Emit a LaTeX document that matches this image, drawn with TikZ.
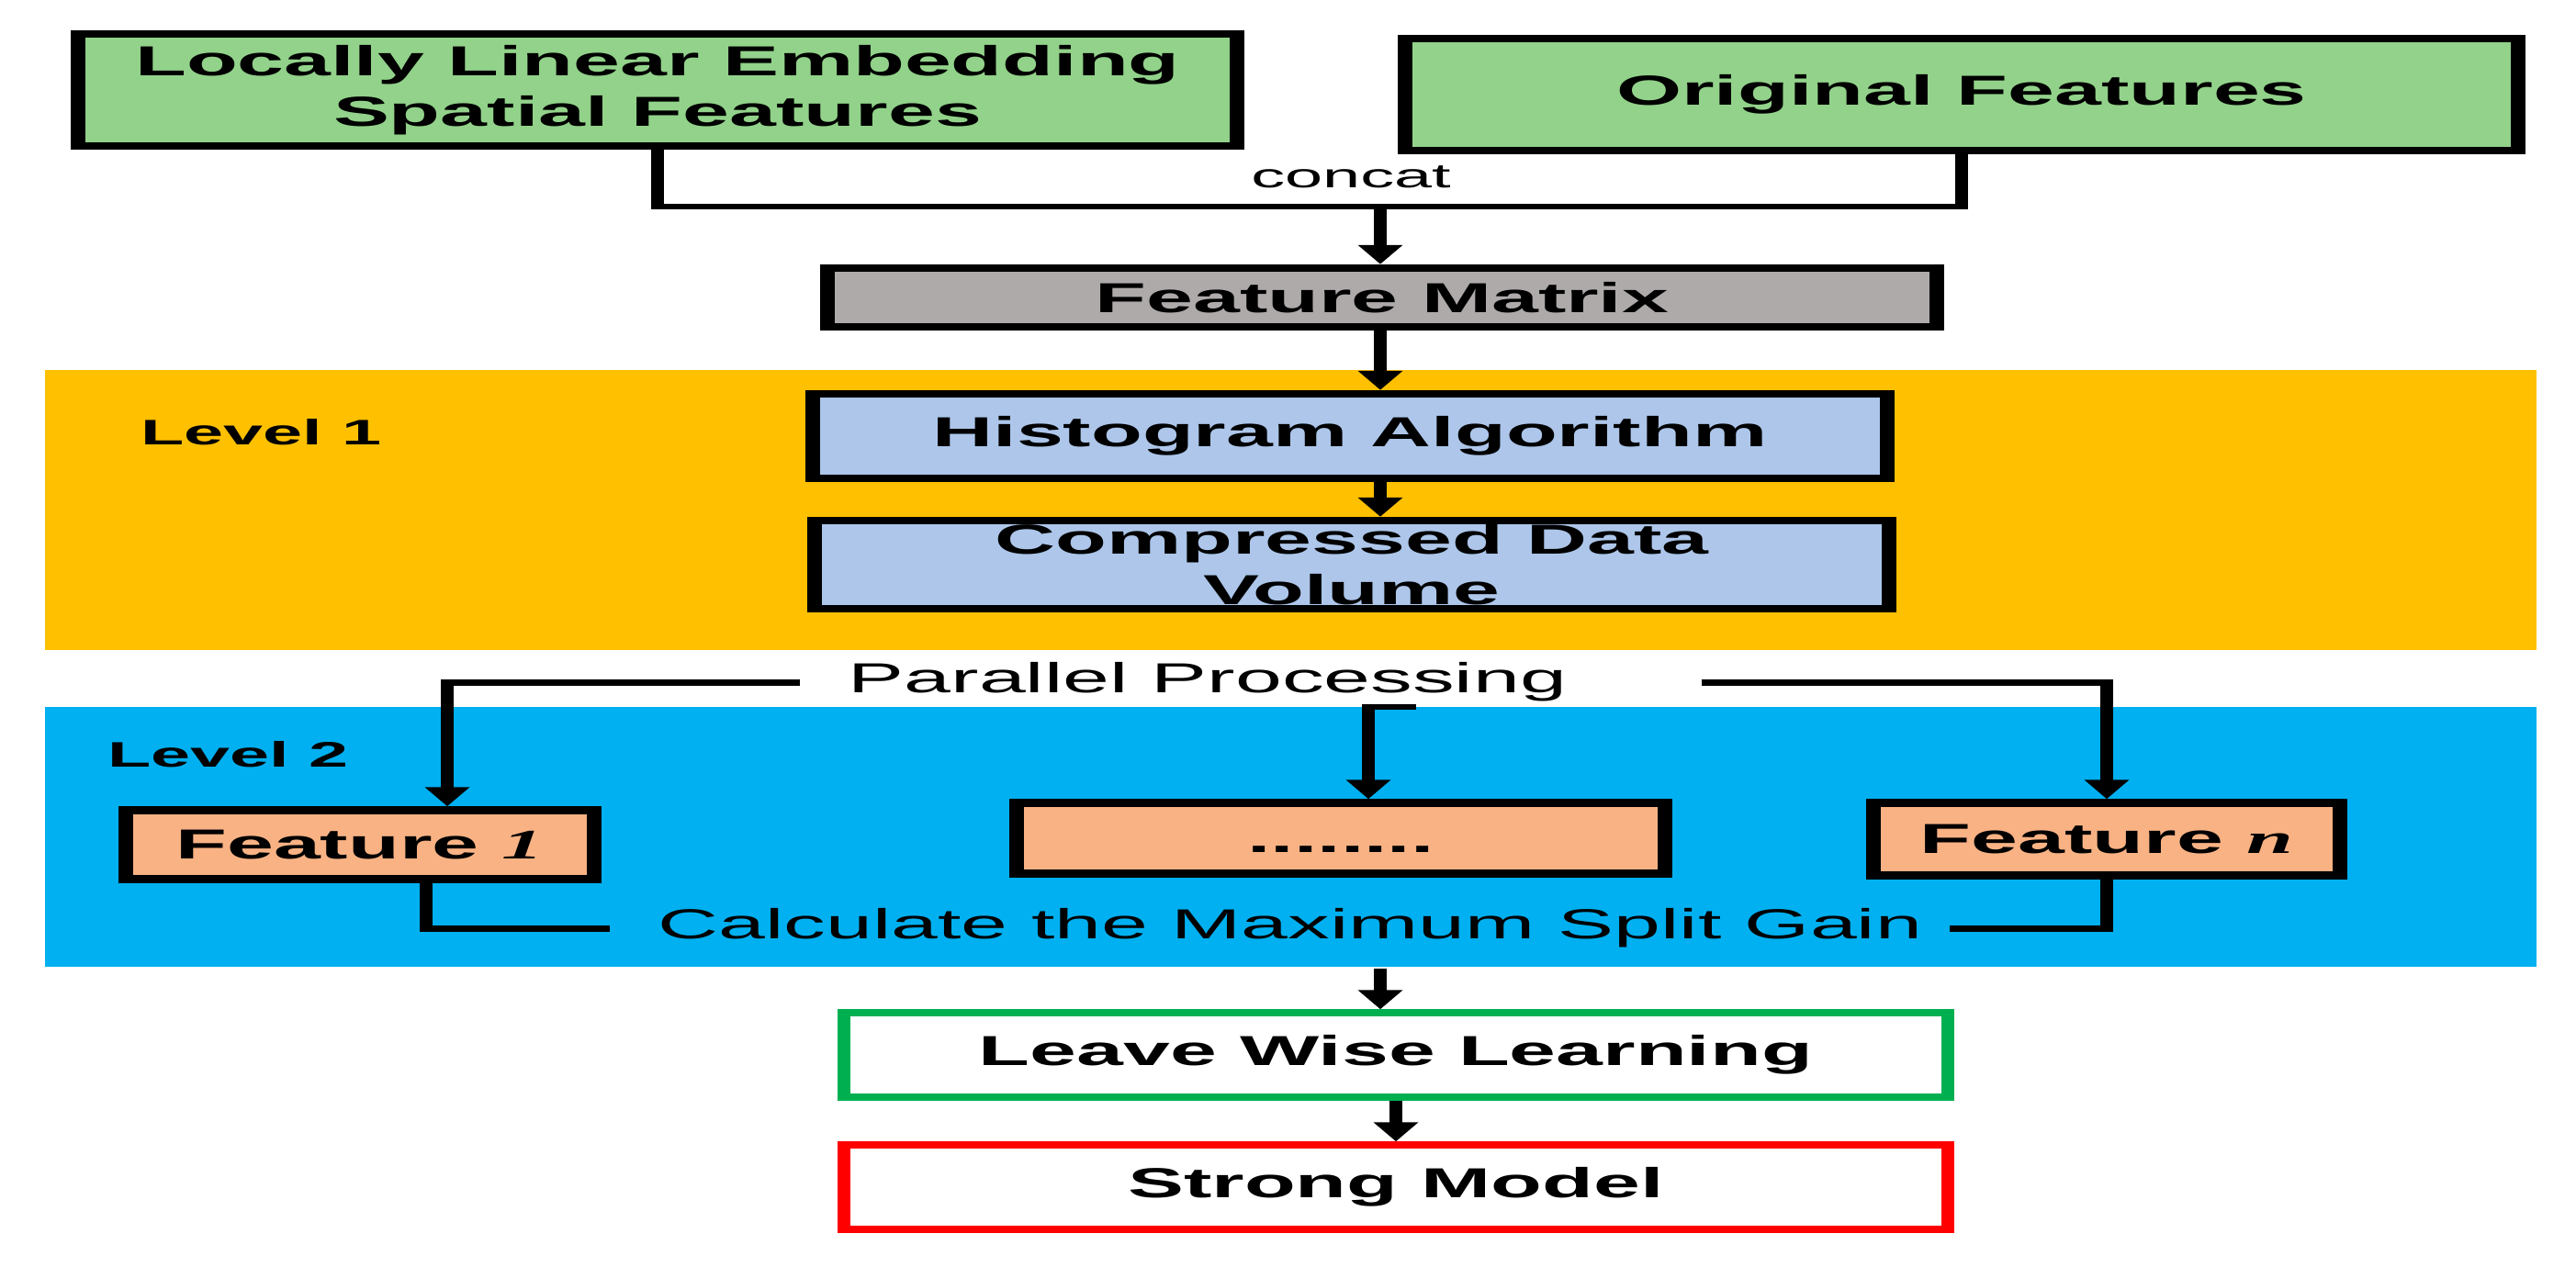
\documentclass[tikz,border=0pt]{standalone}
\usepackage{fontspec}
\setmainfont{Liberation Sans}
\newfontfamily\tnrfont{Liberation Serif}
\usetikzlibrary{arrows.meta}

\definecolor{boxgreen}{RGB}{146,210,138}
\definecolor{boxgrey}{RGB}{174,170,170}
\definecolor{boxblue}{RGB}{173,198,234}
\definecolor{boxorange}{RGB}{248,178,132}
\definecolor{bandyellow}{RGB}{255,192,0}
\definecolor{bandblue}{RGB}{0,176,240}
\definecolor{edgegreen}{RGB}{0,176,80}

\begin{document}
\begin{tikzpicture}[
	box/.style={draw, line width=2.3pt, inner sep=0pt, align=center, font=\fontsize{13}{15.6}\selectfont\bfseries},
	lbl/.style={inner sep=0pt, anchor=base, font=\fontsize{13}{15.6}\selectfont},
	conn/.style={line width=1.9pt},
	arr/.style={conn, -{Triangle[width=6.5pt,length=6pt]}}
]
\useasboundingbox (0,0) rectangle (28.05,13.8);
\begin{scope}[transform canvas={xscale=2}]

	% the two levels
	\fill[bandyellow] (0.245,6.72) rectangle (13.81,9.77);
	\fill[bandblue] (0.245,3.27) rectangle (13.81,6.10);
	\node (L1) [lbl, anchor=base west, font=\fontsize{11}{13}\selectfont\bfseries] at (0.76,8.95) {Level 1};
	\node (L2) [lbl, anchor=base west, font=\fontsize{11}{13}\selectfont\bfseries] at (0.58,5.44) {Level 2};

	\node (lle) [box, fill=boxgreen, minimum width=6.31cm, minimum height=1.22cm] at (3.58,12.82) {Locally Linear Embedding\\Spatial Features};
	\node (orig) [box, fill=boxgreen, minimum width=6.06cm, minimum height=1.22cm] at (10.68,12.77) {Original Features};
	\node (cat) [lbl, font=\fontsize{10.5}{12}\selectfont] at (7.355,11.75) {concat};
	\node (fm) [box, fill=boxgrey, minimum width=6.04cm, minimum height=0.64cm] at (7.525,10.56) {Feature Matrix};

	\node (hist) [box, fill=boxblue, minimum width=5.85cm, minimum height=0.92cm] at (7.35,9.05) {Histogram Algorithm};
	\node (cdv) [box, fill=boxblue, minimum width=5.85cm, minimum height=0.96cm] at (7.36,7.65) {Compressed Data\\Volume};

	\node (pp) [lbl] at (6.575,6.25) {Parallel Processing};

	\node (f1) [box, fill=boxorange, minimum width=2.55cm, minimum height=0.75cm] at (1.96,4.60) {Feature {\tnrfont\itshape 1}};
	\node (fdots) [box, fill=boxorange, minimum width=3.53cm, minimum height=0.77cm] at (7.30,4.67) {\vphantom{F}........};
	\node (fn) [box, fill=boxorange, minimum width=2.54cm, minimum height=0.79cm] at (11.47,4.66) {Feature {\tnrfont\itshape n}};
	\node (cms) [lbl] at (7.025,3.57) {Calculate the Maximum Split Gain};

	\node (lwl) [box, draw=edgegreen, line width=2pt, minimum width=6.01cm, minimum height=0.92cm] at (7.60,2.31) {Leave Wise Learning};
	\node (sm) [box, draw=red, line width=2pt, minimum width=6.01cm, minimum height=0.92cm] at (7.60,0.87) {Strong Model};

	\coordinate (join) at (7.515,11.55);
	\coordinate (ppm) at (7.71,6.10);
	\coordinate (lin) at (7.515,3.25);

	\draw[conn] (lle.south) |- (join) -| (orig.south);
	\draw[arr] (join) -- (join |- fm.north);
	\draw[arr] (fm.south -| join) -- (hist.north -| join);
	\draw[arr] (hist.south -| join) -- (cdv.north -| join);

	\draw[arr] ([xshift=-0.26cm]pp.west) -| ([xshift=0.475cm]f1.north);
	\draw[arr] ([xshift=0.725cm]pp.east) -| (fn.north);
	\draw[arr] (ppm) -| ([xshift=0.15cm]fdots.north);

	\draw[conn] ([xshift=0.36cm]f1.south) |- ([xshift=-0.255cm]cms.west);
	\draw[conn] (fn.south) |- ([xshift=0.14cm]cms.east);

	\draw[arr] (lin) -- (lin |- lwl.north);
	\draw[arr] (lwl) -- (sm);

\end{scope}
\end{tikzpicture}
\end{document}
